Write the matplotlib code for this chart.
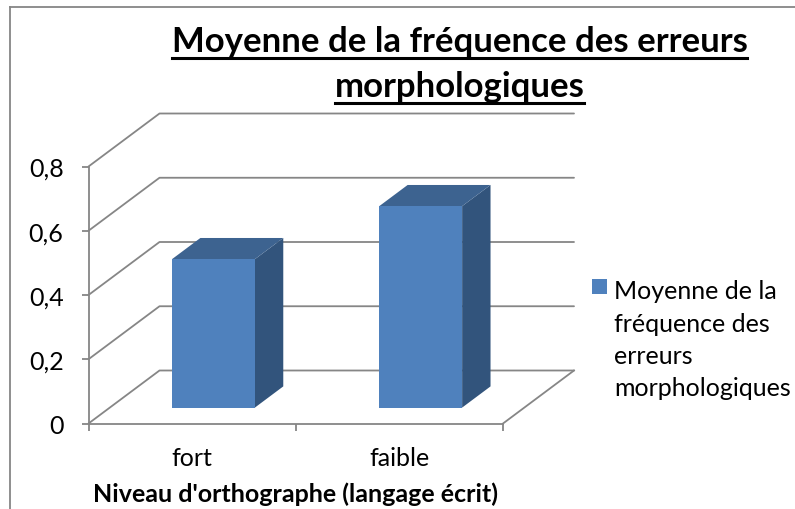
import matplotlib
matplotlib.use("Agg")
import matplotlib.pyplot as plt
from matplotlib.lines import Line2D
from matplotlib.patches import Polygon, Patch

categories = ["fort", "faible"]
values = [0.462, 0.627]
y_ticks = [0, 0.2, 0.4, 0.6, 0.8]
y_labels = ["0", "0,2", "0,4", "0,6", "0,8"]
title_lines = ["Moyenne de la fréquence des erreurs", "morphologiques"]
x_title = "Niveau d'orthographe (langage écrit)"
legend_label = "Moyenne de la\nfréquence des\nerreurs\nmorphologiques"

W, H = 795, 510
GRID = "#868686"
FONT = "Lato"
plt.rcParams["font.family"] = FONT

fig = plt.figure(figsize=(W / 100, H / 100), dpi=100, facecolor="white")
L, R, T, B = 88.5, 503, 167.5, 424.5
ax = fig.add_axes([L / W, 1 - B / H, (R - L) / W, (B - T) / H])
ax.set_xlim(0, len(categories))
ax.set_ylim(0, 0.8)
ax.patch.set_visible(False)

# oblique depth projection, in data units
DX = 71 / ((R - L) / 2)
DY = 53 / ((B - T) / 0.8)


def proj(x, y, z):
    return (x + z * DX, y + z * DY)


# walls and gridlines
for y in y_ticks:
    xs, ys = zip(proj(0, y, 0), proj(0, y, 1), proj(len(categories), y, 1))
    ax.plot(xs, ys, color=GRID, lw=1.3, clip_on=False, zorder=1, solid_capstyle="round")
xs, ys = zip(proj(len(categories), 0, 0), proj(len(categories), 0, 1))
ax.plot(xs, ys, color=GRID, lw=1.3, clip_on=False, zorder=1)

# 3D bars
for i, v in enumerate(values):
    x0, x1 = i + 0.3, i + 0.7
    z0, z1 = 0.3, 0.7
    front = [proj(x0, 0, z0), proj(x1, 0, z0), proj(x1, v, z0), proj(x0, v, z0)]
    side = [proj(x1, 0, z0), proj(x1, 0, z1), proj(x1, v, z1), proj(x1, v, z0)]
    top = [proj(x0, v, z0), proj(x1, v, z0), proj(x1, v, z1), proj(x0, v, z1)]
    ax.add_patch(Polygon(side, closed=True, fc="#32547C", ec="none", clip_on=False, zorder=3))
    ax.add_patch(Polygon(top, closed=True, fc="#3D6390", ec="none", clip_on=False, zorder=3))
    ax.add_patch(Polygon(front, closed=True, fc="#4F81BD", ec="none", clip_on=False, zorder=4))

# axes
for s in ("top", "right"):
    ax.spines[s].set_visible(False)
for s in ("left", "bottom"):
    ax.spines[s].set_color(GRID)
    ax.spines[s].set_linewidth(1.3)
ax.set_yticks(y_ticks, y_labels)
ax.tick_params(axis="y", length=5, width=1.3, color=GRID, pad=13, labelsize=18, labelcolor="black")
ax.set_xticks(range(len(categories) + 1), [""] * (len(categories) + 1))
ax.tick_params(axis="x", which="major", length=5, width=1.3, color=GRID)
ax.set_xticks([i + 0.5 for i in range(len(categories))], categories, minor=True)
ax.tick_params(axis="x", which="minor", length=0, pad=16.5, labelsize=18, labelcolor="black")
ax.set_xlabel(x_title, fontsize=18, fontweight="bold", labelpad=8.5, color="black")

# title, with drawn underlines
title_y = [42, 87]
fig.canvas.draw()
renderer = fig.canvas.get_renderer()
for line, yp in zip(title_lines, title_y):
    t = fig.text(459.5 / W, 1 - yp / H, line, fontsize=25, fontweight="bold",
                 ha="center", va="center", color="black")
    bb = t.get_window_extent(renderer)
    uy = yp + 16.5
    fig.add_artist(Line2D([bb.x0 / W, bb.x1 / W], [1 - uy / H, 1 - uy / H], color="black", lw=2.2))

# legend
leg = fig.legend(handles=[Patch(fc="#4F81BD", ec="none", label=legend_label)],
                 loc="upper left", bbox_to_anchor=(592 / W, 1 - 280 / H), frameon=False,
                 fontsize=18, handlelength=0.6, handleheight=0.6, handletextpad=0.28,
                 borderpad=0, borderaxespad=0)
for t in leg.get_texts():
    t.set_linespacing(1.5)
# the swatch belongs beside the first of the four lines
h = leg.legend_handles[0]
h.set_y(h.get_y() + 38.5)

# chart frame
fig.add_artist(Line2D([9.5 / W, 9.5 / W], [0, 1 - 8 / H], color=GRID, lw=1.3))
fig.add_artist(Line2D([9.5 / W, 1], [1 - 8 / H, 1 - 8 / H], color=GRID, lw=1.3))

fig.savefig("out.png", dpi=100)
